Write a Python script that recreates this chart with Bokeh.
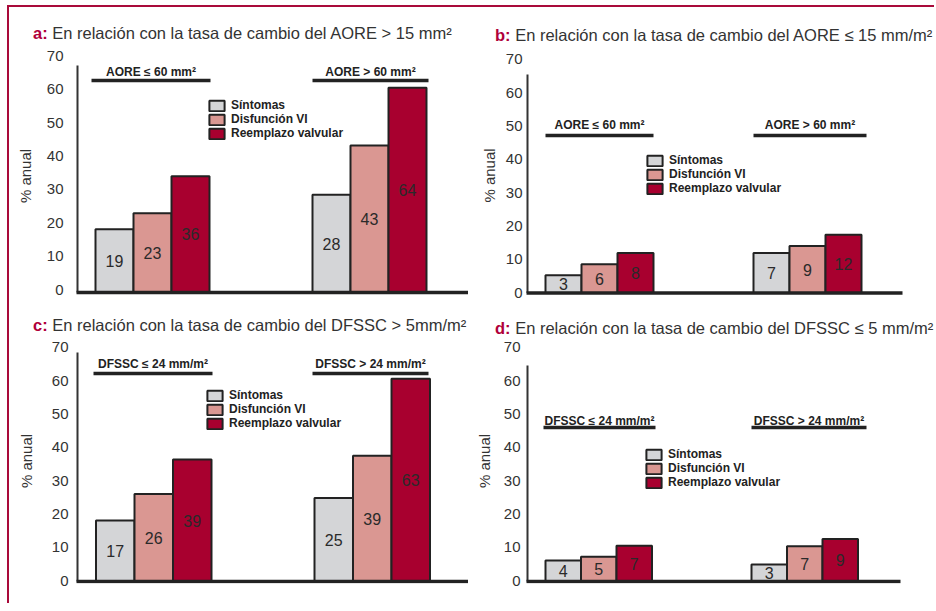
import math
from bokeh.plotting import figure
from bokeh.models import Range1d, LinearAxis, FixedTicker, Legend, LegendItem, ColumnDataSource, Div
from bokeh.layouts import row, column
from bokeh.core.properties import value
from bokeh.embed import file_html
from bokeh.resources import INLINE

FONT = "Liberation Sans"

# ---------------- data ----------------
series = ["Síntomas", "Disfunción VI", "Reemplazo valvular"]
series_colors = ["#d4d5d7", "#da9792", "#a8002f"]
yticks = [0, 10, 20, 30, 40, 50, 60, 70]
y_label = "% anual"

letters = ["a:", "b:", "c:", "d:"]
title_a = "En relación con la tasa de cambio del AORE > 15 mm²"
title_b = "En relación con la tasa de cambio del AORE ≤ 15 mm/m²"
title_c = "En relación con la tasa de cambio del DFSSC > 5mm/m²"
title_d = "En relación con la tasa de cambio del DFSSC ≤ 5 mm/m²"

groups_a = ["AORE ≤ 60 mm²", "AORE > 60 mm²"]
groups_b = ["AORE ≤ 60 mm²", "AORE > 60 mm²"]
groups_c = ["DFSSC ≤ 24 mm/m²", "DFSSC > 24 mm/m²"]
groups_d = ["DFSSC ≤ 24 mm/m²", "DFSSC > 24 mm/m²"]

# bar heights as drawn (% anual, read on the axis)
a_sintomas = [18.9, 29.3]
a_disfuncion = [23.7, 44.0]
a_reemplazo = [34.8, 61.3]
b_sintomas = [5.3, 12.0]
b_disfuncion = [8.6, 14.1]
b_reemplazo = [12.0, 17.5]
c_sintomas = [18.3, 25.1]
c_disfuncion = [26.3, 37.8]
c_reemplazo = [36.6, 60.9]
d_sintomas = [6.3, 5.1]
d_disfuncion = [7.4, 10.6]
d_reemplazo = [10.7, 12.8]

# values printed inside the bars
a_sintomas_lbl = [19, 28]
a_disfuncion_lbl = [23, 43]
a_reemplazo_lbl = [36, 64]
b_sintomas_lbl = [3, 7]
b_disfuncion_lbl = [6, 9]
b_reemplazo_lbl = [8, 12]
c_sintomas_lbl = [17, 25]
c_disfuncion_lbl = [26, 39]
c_reemplazo_lbl = [39, 63]
d_sintomas_lbl = [4, 3]
d_disfuncion_lbl = [5, 7]
d_reemplazo_lbl = [7, 9]

# ---------------- layout (page pixel geometry) ----------------
panels = [
    dict(letter=letters[0], title=title_a, groups=groups_a,
         heights=[a_sintomas, a_disfuncion, a_reemplazo],
         labels=[a_sintomas_lbl, a_disfuncion_lbl, a_reemplazo_lbl],
         left=9, width=459, title_w=459, ttop=7, th=41, ch=257, frame_bottom=303,
         axis_x=77, zero_y=292, scale=3.34, tick_off=3, axis_top=68,
         bar_w=38, group_x=[95, 312], base_end=468, hdr_y=80, hdr_text_y=71,
         hdr_x=[(91, 210), (312, 428)], legend=(207, 140), title_xy=(33, 33),
         std=11, lab_std=10),
    dict(letter=letters[1], title=title_b, groups=groups_b,
         heights=[b_sintomas, b_disfuncion, b_reemplazo],
         labels=[b_sintomas_lbl, b_disfuncion_lbl, b_reemplazo_lbl],
         left=468, width=458, title_w=466, ttop=7, th=41, ch=257, frame_bottom=302,
         axis_x=527, zero_y=292.5, scale=3.33, tick_off=0.5, axis_top=65.6,
         bar_w=36, group_x=[545, 753], base_end=902, hdr_y=135, hdr_text_y=124.5,
         hdr_x=[(545, 653), (753, 866)], legend=(645, 195), title_xy=(495, 35),
         std=2, lab_std=5),
    dict(letter=letters[2], title=title_c, groups=groups_c,
         heights=[c_sintomas, c_disfuncion, c_reemplazo],
         labels=[c_sintomas_lbl, c_disfuncion_lbl, c_reemplazo_lbl],
         left=9, width=459, title_w=459, ttop=305, th=33, ch=265, frame_bottom=583,
         axis_x=77, zero_y=581, scale=3.33, tick_off=1, axis_top=68.8,
         bar_w=38.5, group_x=[95.5, 314], base_end=468, hdr_y=373, hdr_text_y=363,
         hdr_x=[(93, 212), (312, 428)], legend=(205, 430), title_xy=(33, 325),
         std=6, lab_std=14),
    dict(letter=letters[3], title=title_d, groups=groups_d,
         heights=[d_sintomas, d_disfuncion, d_reemplazo],
         labels=[d_sintomas_lbl, d_disfuncion_lbl, d_reemplazo_lbl],
         left=468, width=458, title_w=466, ttop=305, th=33, ch=265, frame_bottom=583,
         axis_x=527, zero_y=581, scale=3.33, tick_off=1, axis_top=64.9,
         bar_w=35.5, group_x=[545, 751], base_end=900, hdr_y=427, hdr_text_y=420,
         hdr_x=[(543, 655), (751, 866)], legend=(644, 489), title_xy=(495, 328),
         std=4, lab_std=8),
]

PAD = 3  # frame starts a few px left of the drawn axis line
LINE_H = 20


def make_title(P):
    xl, yc = P["title_xy"]
    pl = xl - P["left"]
    pt = yc - P["ttop"] - LINE_H / 2
    html = (
        f'<div style="font-family:\'{FONT}\';font-size:16.5px;line-height:{LINE_H}px;'
        f'color:#333333;white-space:nowrap;padding-left:{pl}px;padding-top:{pt}px;margin:0">'
        f'<span style="color:#b0003a;font-weight:bold">{P["letter"]}</span> {P["title"]}</div>'
    )
    return Div(text=html, width=P["title_w"], height=P["th"], margin=0)


def make_chart(P):
    fx, fw = P["left"], P["width"]
    ftop = P["ttop"] + P["th"]
    fh = P["ch"]
    fbottom = P["frame_bottom"]
    ax, zy, sc = P["axis_x"], P["zero_y"], P["scale"]
    mbl = ax - PAD - fx
    mbb = ftop + fh - fbottom
    frame_w = fw - mbl
    y0 = -(fbottom - zy) / sc
    y1 = (zy - ftop) / sc
    off = P["tick_off"] / sc

    def dx(xp):
        return xp - ax

    def dy(yp):
        return (zy - yp) / sc

    def sx(xp):
        return xp - (ax - PAD)

    def sy(yp):
        return fbottom - yp

    p = figure(width=fw, height=fh, output_backend="svg", toolbar_location=None,
               x_range=Range1d(-PAD, frame_w - PAD), y_range=Range1d(y0, y1),
               x_axis_type=None, y_axis_type=None, min_border=0,
               min_border_left=mbl, min_border_bottom=mbb,
               background_fill_color="white", border_fill_color="white")
    p.outline_line_color = None
    p.xgrid.visible = False
    p.ygrid.visible = False

    p.extra_y_ranges = {"ticks": Range1d(y0 - off, y1 - off)}
    yaxis = LinearAxis(y_range_name="ticks", ticker=FixedTicker(ticks=yticks),
                       axis_label=y_label)
    yaxis.axis_line_color = None
    yaxis.major_tick_line_color = None
    yaxis.minor_tick_line_color = None
    yaxis.major_tick_in = 0
    yaxis.major_tick_out = 0
    yaxis.major_label_standoff = P["std"]
    yaxis.major_label_text_font = FONT
    yaxis.major_label_text_font_size = "15px"
    yaxis.major_label_text_color = "#333333"
    yaxis.axis_label_standoff = P["lab_std"]
    yaxis.axis_label_text_font = FONT
    yaxis.axis_label_text_font_size = "15px"
    yaxis.axis_label_text_font_style = "normal"
    yaxis.axis_label_text_color = "#333333"
    p.add_layout(yaxis, "left")

    # drawn axis line
    p.segment(x0=[0], y0=[0], x1=[0], y1=[P["axis_top"]], line_color="#333333", line_width=2)

    bw = P["bar_w"]
    legend_items = []
    for i, s in enumerate(series):
        xs = [dx(g) + (i + 0.5) * bw for g in P["group_x"]]
        src = ColumnDataSource(dict(x=xs, top=P["heights"][i],
                                    ymid=[h / 2 for h in P["heights"][i]],
                                    lbl=[str(v) for v in P["labels"][i]]))
        r = p.vbar(x="x", top="top", bottom=0, width=bw, source=src,
                   fill_color=series_colors[i], line_color="#222222", line_width=2)
        legend_items.append(LegendItem(label=s, renderers=[r]))
        p.text(x="x", y="ymid", text="lbl", source=src, text_align="center",
               text_baseline="middle", text_font=value(FONT), text_font_size="16px",
               text_color="#2a2a2a")

    # baseline
    p.segment(x0=[-1], y0=[0], x1=[dx(P["base_end"])], y1=[0], line_color="#222222", line_width=3.5)

    # group headers
    hx0 = [dx(a) for a, b in P["hdr_x"]]
    hx1 = [dx(b) for a, b in P["hdr_x"]]
    hy = dy(P["hdr_y"])
    p.segment(x0=hx0, y0=[hy, hy], x1=hx1, y1=[hy, hy], line_color="#222222", line_width=3.5)
    p.text(x=[(a + b) / 2 for a, b in zip(hx0, hx1)], y=[dy(P["hdr_text_y"])] * 2,
           text=P["groups"], text_align="center", text_baseline="middle",
           text_font=value(FONT), text_font_size="12px", text_font_style="bold",
           text_color="#222222")

    # legend
    lx, lyb = P["legend"]
    leg = Legend(items=legend_items, location=(sx(lx), sy(lyb)), orientation="vertical",
                 padding=0, margin=0, spacing=0, glyph_width=19, glyph_height=13,
                 label_height=13, label_standoff=5, border_line_alpha=0,
                 background_fill_alpha=0, label_text_font=FONT, label_text_font_size="12px",
                 label_text_font_style="bold", label_text_color="#222222")
    p.add_layout(leg)
    return p


cols = [column(make_title(P), make_chart(P)) for P in panels]
layout = column(row(cols[0], cols[1]), row(cols[2], cols[3]),
                styles={"margin-left": "7px", "margin-top": "5px",
                        "border-top": "2px solid #a90a3a", "border-left": "2px solid #a90a3a"})

open("out.html", "w").write(file_html(layout, INLINE))
